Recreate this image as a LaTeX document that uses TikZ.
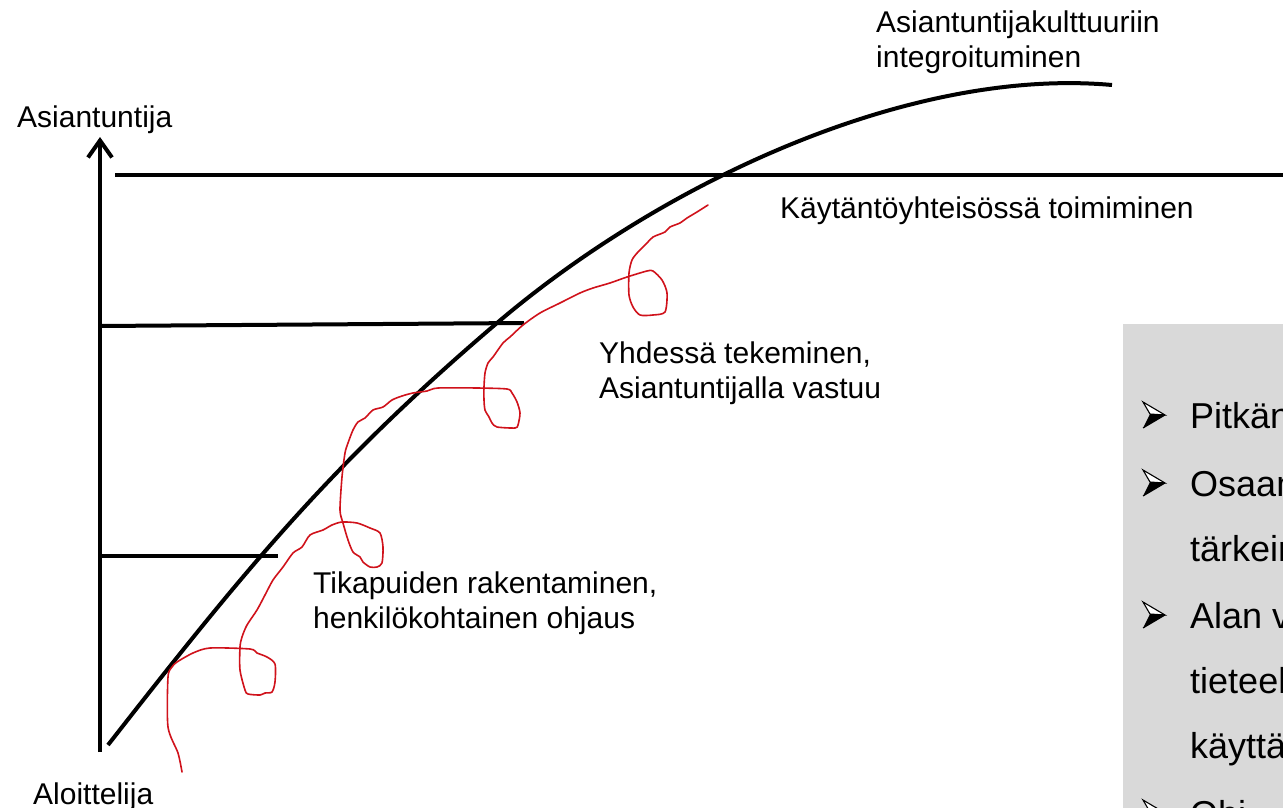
\documentclass[tikz,border=0pt]{standalone}
\usepackage{fontspec}
\setmainfont{Liberation Sans}
\usetikzlibrary{arrows.meta}
\definecolor{boxgray}{HTML}{D9D9D9}
\definecolor{pen}{HTML}{D0121B}
\tikzset{
  lbl/.style={anchor=base west, inner sep=0pt, font=\fontsize{30}{35}\selectfont},
  bigtxt/.style={anchor=base west, inner sep=0pt, font=\fontsize{36}{40}\selectfont},
  thick line/.style={line width=4pt, black},
  pen line/.style={line width=1.6pt, pen, line join=round, line cap=round},
  bul/.pic={
    \draw[line width=1.1pt, fill=white, line join=miter] (0,-13) -- (22,0) -- (7,-1) -- cycle;
    \fill[black] (0,13) -- (22,0) -- (7,-1) -- cycle;
    \draw[line width=1.1pt, line join=miter] (0,13) -- (22,0);
  }
}
\begin{document}
\begin{tikzpicture}[x=1pt,y=-1pt]
\useasboundingbox (0,0) rectangle (1283,808);
\clip (0,0) rectangle (1283,808);
\fill[white] (0,0) rectangle (1283,808);

% gray box
\node[fill=boxgray, anchor=north west, minimum width=170pt, minimum height=500pt, inner sep=0pt] (box) at (1123,324) {};

% axes and level lines
\coordinate (ybot) at (100,752);
\coordinate (ytop) at (100,137);
\draw[thick line, -{Straight Barb[length=17pt,width=24pt]}] (ybot) -- (ytop);
\coordinate (l3a) at (115,175);
\coordinate (l3b) at (1304,175);
\draw[thick line, -{Straight Barb[length=15pt,width=18pt]}] (l3a) -- (l3b);
\coordinate (l2a) at (100,326);
\coordinate (l2b) at (524,323);
\draw[thick line] (l2a) -- (l2b);
\coordinate (l1a) at (100,556);
\coordinate (l1b) at (278,556);
\draw[thick line] (l1a) -- (l1b);

% growth curve
\coordinate (c0) at (108,745);
\coordinate (cm) at (497,323);
\coordinate (c1) at (1112,85);
\draw[thick line] (c0) .. controls (243.5,571.6) and (329.4,465.6) .. (cm)
  .. controls (664.6,180.4) and (912,67) .. (c1);

% red hand-drawn path
\draw[pen line] plot[smooth, tension=0.45] coordinates {(182,772) (178,753) (168,727) (168,677) (172,667) (177,662) (193,653) (210,648) (250,649) (257,653) (267,657) (275,664) (275,682) (272,692) (265,693) (260,695) (248,694) (245,690) (240,670) (240,647) (242,637) (247,625) (257,610) (265,595) (273,580) (283,567) (293,553) (302,547) (310,535) (323,530) (332,525) (342,522) (357,523) (370,528) (380,533) (383,547) (382,563) (377,567) (370,567) (363,562) (360,557) (353,552) (348,540) (343,523) (340,510) (342,477) (345,453) (348,443) (353,430) (358,422) (365,418) (373,410) (383,407) (392,400) (402,396) (413,393) (427,391) (438,388) (477,388) (507,389) (512,393) (517,402) (520,413) (518,425) (515,428) (497,427) (492,423) (489,417) (485,410) (484,400) (484,387) (485,373) (488,363) (493,357) (503,343) (510,337) (523,325) (540,313) (560,303) (580,293) (593,288) (610,283) (627,277) (647,271) (653,271) (662,280) (667,293) (665,312) (653,315) (640,315) (633,307) (629,295) (629,273) (632,260) (638,252) (647,243) (653,237) (665,232) (670,227) (680,223) (687,218) (697,212) (708,205)};

% labels
\node[lbl] (asi) at (17,128) {Asiantuntija};
\node[lbl] (alo) at (33,804) {Aloittelija};
\node[lbl] (int1) at (876,33) {Asiantuntijakulttuuriin};
\node[lbl] (int2) at (876,68) {integroituminen};
\node[lbl] (kay) at (780,218) {Käytäntöyhteisössä toimiminen};
\node[lbl] (yhd1) at (599,363) {Yhdessä tekeminen,};
\node[lbl] (yhd2) at (599,398) {Asiantuntijalla vastuu};
\node[lbl] (tik1) at (313,593) {Tikapuiden rakentaminen,};
\node[lbl] (tik2) at (313,628) {henkilökohtainen ohjaus};

% bullet text (cut off at right edge, as in the reference)
\pic at (1143,415) {bul};
\node[bigtxt] (b1) at (1190,428) {Pitkän};
\pic at (1143,483) {bul};
\node[bigtxt] (b2) at (1190,496) {Osaam};
\node[bigtxt] (b2b) at (1190,561) {tärkein};
\pic at (1143,615) {bul};
\node[bigtxt] (b3) at (1190,628) {Alan v};
\node[bigtxt] (b3b) at (1190,693) {tieteel};
\node[bigtxt] (b3c) at (1190,758) {käyttä};
\pic at (1143,813) {bul};
\node[bigtxt] (b4) at (1190,826) {Ohj};
\end{tikzpicture}
\end{document}
